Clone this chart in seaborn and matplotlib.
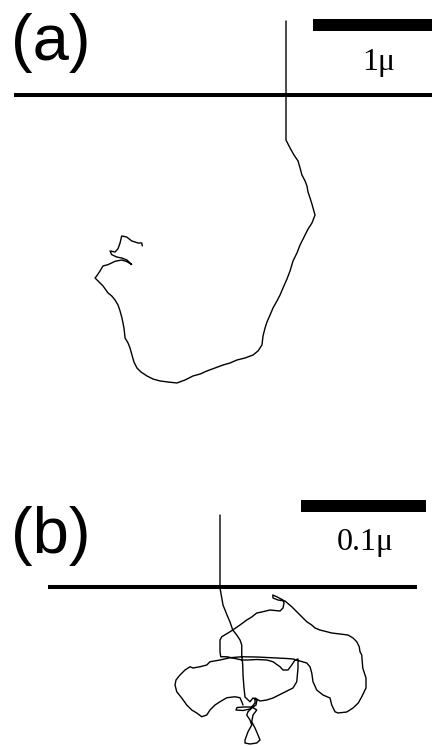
import matplotlib
matplotlib.use("Agg")
import matplotlib.pyplot as plt
from matplotlib.patches import Rectangle
import pandas as pd
import seaborn as sns

# ---- Trajectory (a): tethered chain end, coordinates in nm relative to the anchor
traj_a_x = [0, 0, 34, 67, 101, 118, 134, 160, 176, 185, 202, 218, 227, 244, 218, 185,
            160, 118, 92, 59, 34, 8, -25, -50, -76, -109, -134, -160, -176, -193, -202,
            -235, -277, -344, -412, -470, -529, -596, -664, -722, -781, -848, -916,
            -991, -1058, -1117, -1168, -1218, -1252, -1277, -1294, -1310, -1327, -1352,
            -1361, -1378, -1394, -1411, -1436, -1464, -1495, -1537, -1579, -1604, -1590,
            -1562, -1537, -1495, -1436, -1380, -1338, -1296, -1336, -1380, -1422, -1464,
            -1478, -1436, -1411, -1394, -1380, -1338, -1296, -1243, -1212, -1207]
traj_a_y = [622, -378, -445, -504, -554, -613, -672, -722, -764, -815, -865, -916, -949,
            -1008, -1075, -1126, -1176, -1260, -1327, -1394, -1478, -1546, -1621, -1680,
            -1730, -1789, -1848, -1907, -1957, -2024, -2100, -2150, -2184, -2209, -2226,
            -2251, -2268, -2293, -2318, -2344, -2360, -2394, -2419, -2411, -2402, -2386,
            -2360, -2327, -2293, -2243, -2184, -2125, -2083, -2041, -1957, -1873, -1814,
            -1764, -1722, -1688, -1663, -1604, -1562, -1537, -1520, -1478, -1436, -1425,
            -1397, -1386, -1399, -1424, -1386, -1369, -1361, -1341, -1310, -1319, -1291,
            -1243, -1184, -1193, -1226, -1243, -1243, -1268]

# ---- Trajectory (b): coordinates in nm relative to the anchor
traj_b_x = [0, 0, 1.4, 2.4, 5.6, 8, 10.2, 13.4, 16, 17.4, 17.4, 18.2, 18.4, 19.2, 20,
            24, 26.4, 29.6, 28.8, 25.4, 22.4, 21.4, 24, 25.4, 22.4, 20, 20, 24, 29.4, 32,
            30.4, 28, 25.4, 26.4, 29.4, 25.6, 19.2, 13.6, 12.8, 18.4, 24, 28, 28, 32,
            37.4, 42.4, 50.4, 58.4, 61.4, 62.4, 62.4,
            60, 57.4, 54.4, 50.4, 48, 42.4, 37.4, 29.4, 22.4, 17.4, 10.4, 5.4, 0.6, 0, 0,
            1.4, 6.4, 10.2, 16, 21.4, 25.4, 29.4, 33.4, 40, 48, 50.4, 51.2, 50.4, 45.4,
            42.2, 42.4, 46.4, 52, 57.4, 61.4, 65.4, 69.4, 73.4, 76, 80, 85.4, 89.4, 96,
            102.4, 106.4, 109.4, 111.4, 112, 113.4, 114.2, 116.8, 116.8, 113.4, 110.6,
            106.4, 101.4, 94.4, 92, 89.4, 88, 82.4, 77.4, 74.4, 73.4, 72, 69.4, 64, 58.4,
            53.4, 45.4, 37.4, 29.4, 17.4, 8, 0, -8, -10.6, -16, -21.6, -24, -28, -32,
            -35.2, -36, -34.6, -30.6, -26.6, -22.6, -18.6, -14.6, -10.6, -8, -4, 0, 5.4,
            12, 16, 17.4, 18.4]
traj_b_y = [57.6, -0.8, -8.8, -14.4, -22.4, -28, -34.4, -38.4, -42.4, -46.4, -54.4,
            -62.4, -70.4, -80.8, -88,
            -91.8, -88.8, -90.4, -94.4, -96.8, -99.8, -102.4, -106.4, -110.4, -115.8,
            -122.4, -124.8, -125.6, -124.8, -122.4, -118.4, -112.8, -107.8, -102.4, -98.4,
            -96, -96, -96.4, -98.4, -98.8, -97.6, -92.8, -88.8, -91.2,
            -90.4, -88.8, -84.8, -80.8, -75.8, -64.8, -57.6,
            -58.4, -62.4, -66.4, -66.4, -63.8, -59.8, -58.4, -58, -58.4, -58.4, -56.8,
            -55.8, -55.8, -51.8, -42.4, -39.8, -36.8, -34.4, -30.4, -26.4, -24, -20.8,
            -20, -18.4, -19.2, -16.8, -12.8, -10.4, -7.8, -6.4, -8.8, -10.4, -11.2,
            -15.8, -19.8, -23.8, -27.8, -30.4, -32.8, -34.4, -35.8, -36.8, -37.6, -38.4,
            -40.8, -43.8, -47.8, -51.8, -54.4, -64.8, -72.8, -80.8, -87.8, -92.8, -96.8,
            -100, -100.8, -99.8, -94.4, -88.8, -86.4, -82.4, -75.8, -68.8, -63.8, -60.8,
            -59.2, -57.6, -57.2, -56.8, -56.4, -56, -55.8, -56.6, -58.4, -59.8, -62.4,
            -63.8, -64.8, -63.8, -66.4, -70.4, -74.4, -78.4, -83.8, -88.8, -94.4, -98.4,
            -100.8, -103.8, -102.4, -98.4, -94.4, -91.8, -88.6, -87.8, -88.6, -91.8,
            -94.4]

panel_labels = ["(a)", "(b)"]
scale_lengths_nm = [1000, 100]
scale_labels = ["1\u03bc", "0.1\u03bc"]

W, H = 432, 746
fig = plt.figure(figsize=(W / 100, H / 100), dpi=100)
sns.set_theme(style="white")
plt.rcParams["font.family"] = ["Liberation Sans", "DejaVu Sans"]


def panel(rect, xlim, ylim, tx, ty, interface, bar_x0, bar_y, bar_h,
          label, label_xy, scale_len, scale_label, scale_xy):
    ax = fig.add_axes(rect)
    ax.set_xlim(*xlim)
    ax.set_ylim(*ylim)
    ax.set_axis_off()
    df = pd.DataFrame({"x": tx, "y": ty})
    sns.lineplot(data=df, x="x", y="y", sort=False, estimator=None,
                 color="black", lw=1.0, ax=ax)
    # interface line
    ax.plot(interface, [0, 0], color="black", lw=2.9, solid_capstyle="butt")
    # scale bar
    ax.add_patch(Rectangle((bar_x0, bar_y - bar_h / 2), scale_len, bar_h,
                           color="black", lw=0))
    ax.text(scale_xy[0], scale_xy[1], scale_label, ha="center", va="baseline",
            fontsize=23, family="Liberation Serif", color="black")
    ax.text(label_xy[0], label_xy[1], label, ha="left", va="baseline",
            fontsize=47, family="Liberation Sans", color="black")
    return ax


# panel (a): 8.4 nm per pixel
ha_px = 430
panel([0, 1 - ha_px / H, 1, ha_px / H],
      (-286 * 8.4, 146 * 8.4), ((95 - ha_px) * 8.4, 95 * 8.4),
      traj_a_x, traj_a_y,
      (-272 * 8.4, 146 * 8.4), 1226 - scale_lengths_nm[0], 584, 101,
      panel_labels[0], (-2310, 294), scale_lengths_nm[0], scale_labels[0], (781, 210))

# panel (b): 0.8 nm per pixel
hb_px = 306
panel([0, 0, 1, hb_px / H],
      (-220 * 0.8, 212 * 0.8), ((587 - 746) * 0.8, (587 - 440) * 0.8),
      traj_b_x, traj_b_y,
      (-137.6, 157.6), 64.8, 65.2, 9.6,
      panel_labels[1], (-167.2, 27.2), scale_lengths_nm[1], scale_labels[1], (116, 29.6))

fig.savefig("out.png", dpi=100, facecolor="white")
